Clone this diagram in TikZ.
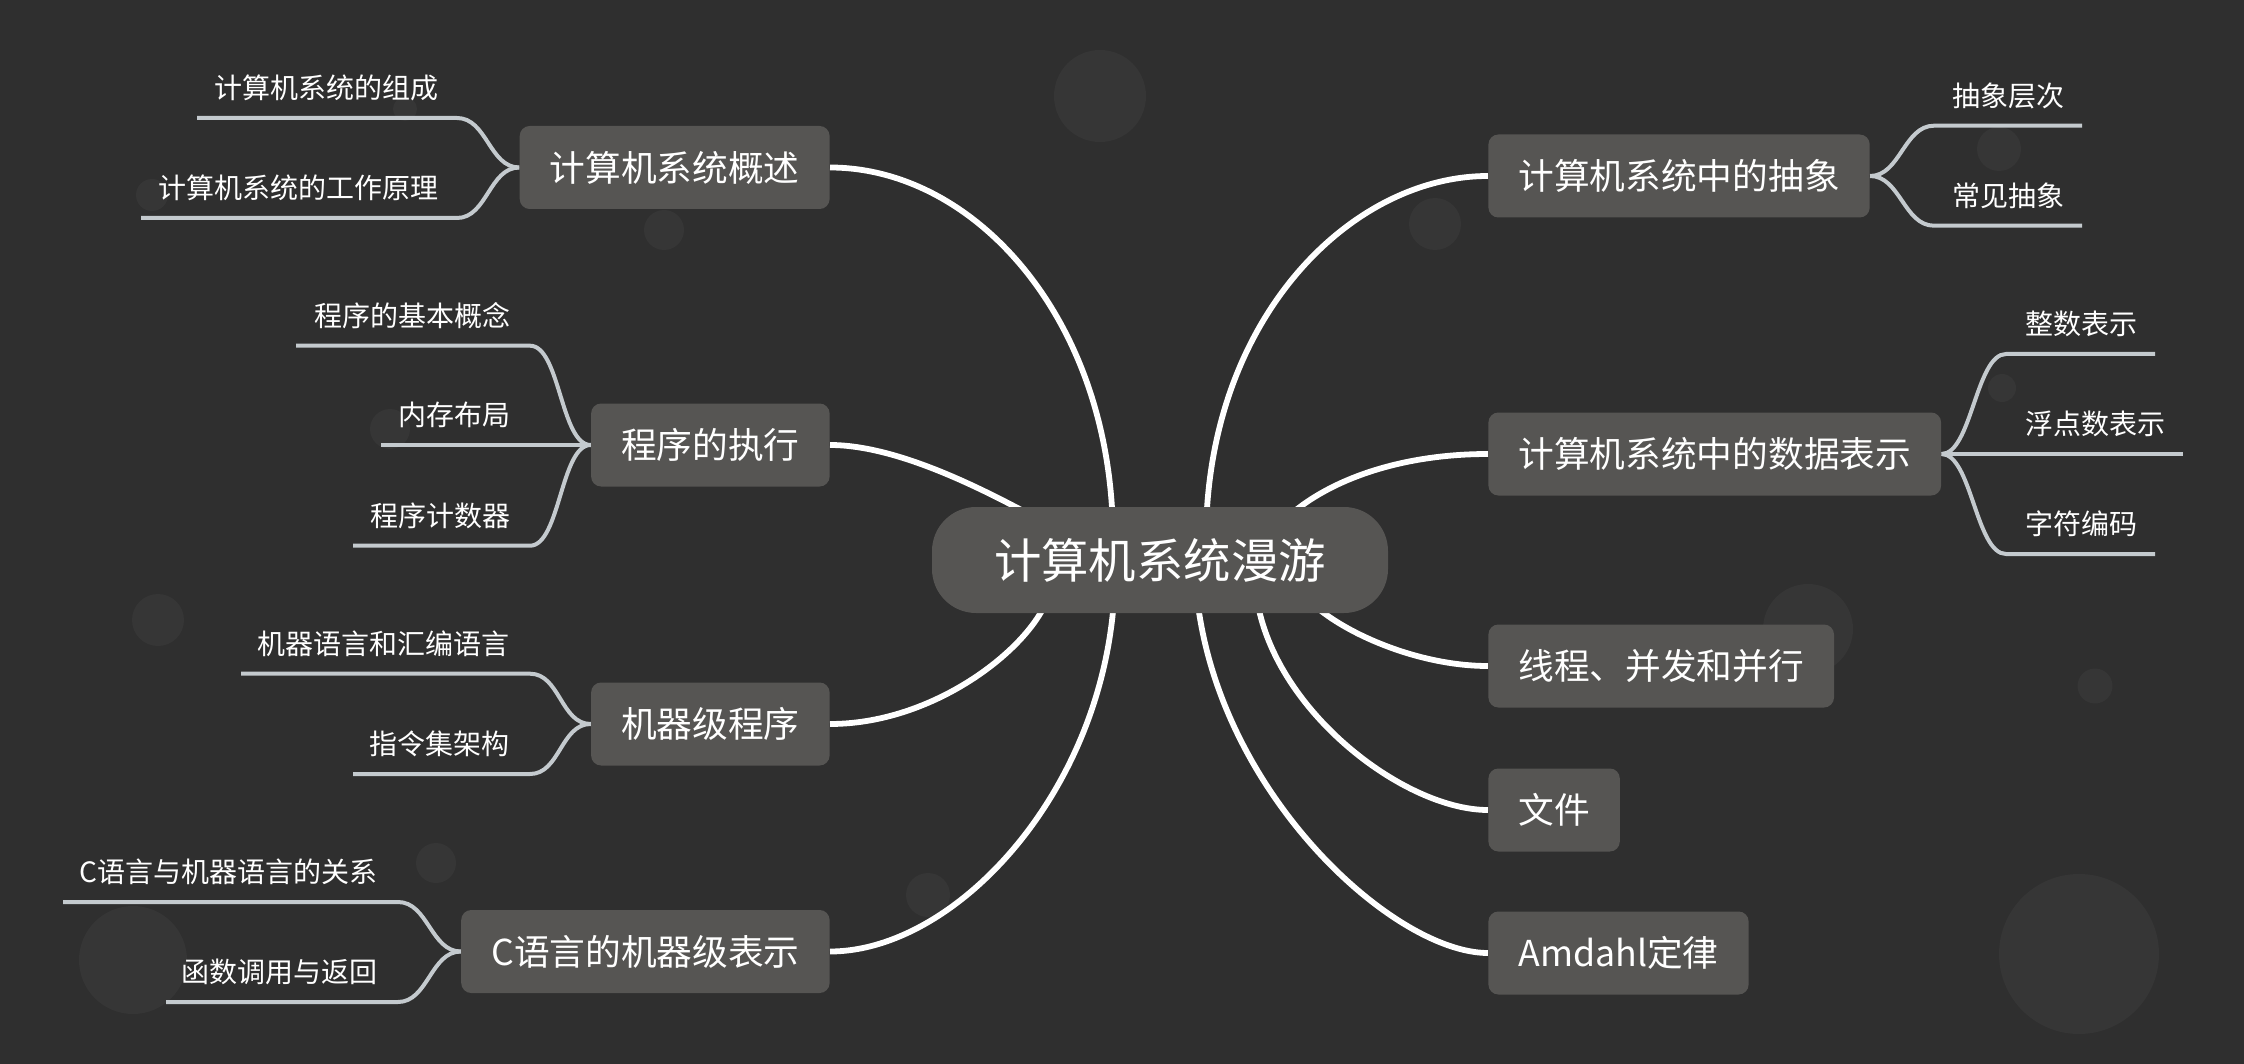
\documentclass[tikz,border=0pt]{standalone}
\usepackage{fontspec}
\setmainfont{Noto Sans CJK SC}
\usetikzlibrary{calc}
\definecolor{bgc}{RGB}{47,47,47}
\definecolor{dotc}{RGB}{54,54,54}
\definecolor{boxc}{RGB}{86,85,83}
\definecolor{leafc}{RGB}{196,202,206}
\pgfdeclarelayer{backdrop}
\pgfdeclarelayer{lines}
\pgfsetlayers{backdrop,lines,main}
\begin{document}
\begin{tikzpicture}[x=0.5pt,y=-0.5pt,
  mainbox/.style={fill=boxc, rounded corners=5pt, text=white, inner xsep=15pt, inner ysep=0pt, minimum height=41.5pt, font=\fontsize{17.85}{20}\selectfont},
  rootbox/.style={fill=boxc, rounded corners=22pt, text=white, minimum width=228pt, minimum height=53pt, inner sep=0pt, font=\fontsize{23.7}{26}\selectfont},
  leaf/.style={text=white, inner sep=0pt, font=\fontsize{14}{16}\selectfont},
  mainline/.style={draw=white, line width=2.9pt},
  leafline/.style={draw=leafc, line width=2pt},
  bgdot/.style={fill=dotc}]
\useasboundingbox (0,0) rectangle (2244,1064);

% ---------- nodes ----------
\node[rootbox] (root) at (1160,560) {计算机系统漫游};

\node[mainbox, anchor=east] (m1) at (830,167.5) {计算机系统概述};
\node[mainbox, anchor=east] (m2) at (830,445) {程序的执行};
\node[mainbox, anchor=east] (m3) at (830,724) {机器级程序};
\node[mainbox, anchor=east] (m4) at (830,951.5) {C语言的机器级表示};
\node[mainbox, anchor=west] (m5) at (1488,176) {计算机系统中的抽象};
\node[mainbox, anchor=west] (m6) at (1488,454) {计算机系统中的数据表示};
\node[mainbox, anchor=west] (m7) at (1488,666) {线程、并发和并行};
\node[mainbox, anchor=west] (m8) at (1488,810) {文件};
\node[mainbox, anchor=west] (m9) at (1488,953) {Amdahl定律};

% leaves (left)
\node[leaf, anchor=east] (l11) at (439,88) {计算机系统的组成};
\node[leaf, anchor=east] (l12) at (439,188) {计算机系统的工作原理};
\node[leaf, anchor=east] (l21) at (511,315.5) {程序的基本概念};
\node[leaf, anchor=east] (l22) at (511,415) {内存布局};
\node[leaf, anchor=east] (l23) at (511,515.5) {程序计数器};
\node[leaf, anchor=east] (l31) at (510,644) {机器语言和汇编语言};
\node[leaf, anchor=east] (l32) at (510,744) {指令集架构};
\node[leaf, anchor=east] (l41) at (378,872) {C语言与机器语言的关系};
\node[leaf, anchor=east] (l42) at (378,972) {函数调用与返回};
% leaves (right)
\node[leaf, anchor=west] (l51) at (1952,95.7) {抽象层次};
\node[leaf, anchor=west] (l52) at (1952,195.7) {常见抽象};
\node[leaf, anchor=west] (l61) at (2025,324) {整数表示};
\node[leaf, anchor=west] (l62) at (2025,424) {浮点数表示};
\node[leaf, anchor=west] (l63) at (2025,524) {字符编码};

% ---------- coordinates ----------
\coordinate (t1) at (m1.west);
\coordinate (t2) at (m2.west);
\coordinate (t3) at (m3.west);
\coordinate (t4) at (m4.west);
\coordinate (t5) at (m5.east);
\coordinate (t6) at (m6.east);
\coordinate (k11) at (457,118);   \coordinate (e11) at (197,118);
\coordinate (k12) at (457,218);   \coordinate (e12) at (141,218);
\coordinate (k21) at (530,345.7); \coordinate (e21) at (296,345.7);
\coordinate (e22) at (381,445);
\coordinate (k23) at (530,545.7); \coordinate (e23) at (353,545.7);
\coordinate (k31) at (530,673.7); \coordinate (e31) at (241,673.7);
\coordinate (k32) at (530,774);   \coordinate (e32) at (353,774);
\coordinate (k41) at (398,902);   \coordinate (e41) at (63,902);
\coordinate (k42) at (398,1002);  \coordinate (e42) at (166,1002);
\coordinate (k51) at (1934,125.7); \coordinate (e51) at (2082,125.7);
\coordinate (k52) at (1934,225.7); \coordinate (e52) at (2082,225.7);
\coordinate (k61) at (2006,354);  \coordinate (e61) at (2155,354);
\coordinate (e62) at (2182.5,454);
\coordinate (k63) at (2006,554);  \coordinate (e63) at (2155,554);
\coordinate (r1) at (1113,540);
\coordinate (r2) at (1040,520);
\coordinate (r3) at (1050,590);
\coordinate (r4) at (1115,570);
\coordinate (r5) at (1206,540);
\coordinate (r6) at (1290,515);
\coordinate (r7) at (1300,590);
\coordinate (r8) at (1255,580);
\coordinate (r9) at (1195,570);

% ---------- background ----------
\begin{pgfonlayer}{backdrop}
\fill[bgc] (0,0) rectangle (2244,1064);
\fill[bgdot] (1100,96) circle[radius=46];
\fill[bgdot] (664,230) circle[radius=20];
\fill[bgdot] (1435,224) circle[radius=26];
\fill[bgdot] (152,195) circle[radius=16];
\fill[bgdot] (390,429) circle[radius=20];
\fill[bgdot] (158,620) circle[radius=26];
\fill[bgdot] (436,863) circle[radius=20];
\fill[bgdot] (133,960) circle[radius=54];
\fill[bgdot] (928,895) circle[radius=22];
\fill[bgdot] (1808,629) circle[radius=45];
\fill[bgdot] (2095,686) circle[radius=17.5];
\fill[bgdot] (2079,954) circle[radius=80];
\fill[bgdot] (1999,149) circle[radius=22];
\fill[bgdot] (2002,388) circle[radius=14];
\fill[bgdot] (405,109) circle[radius=12];
\end{pgfonlayer}

% ---------- connectors ----------
\begin{pgfonlayer}{lines}
\draw[mainline] (r1) .. controls (1113,320) and (975,167.5) .. (m1.east);
\draw[mainline] (r2) .. controls (990,493) and (900,445) .. (m2.east);
\draw[mainline] (r3) .. controls (1040,640) and (940,724) .. (m3.east);
\draw[mainline] (r4) .. controls (1115,780) and (960,951.5) .. (m4.east);
\draw[mainline] (r5) .. controls (1206,320) and (1350,176) .. (m5.west);
\draw[mainline] (r6) .. controls (1330,480) and (1400,454) .. (m6.west);
\draw[mainline] (r7) .. controls (1325,625) and (1410,666) .. (m7.west);
\draw[mainline] (r8) .. controls (1260,700) and (1400,810) .. (m8.west);
\draw[mainline] (r9) .. controls (1203,780) and (1390,953) .. (m9.west);

\draw[leafline] (t1) .. controls +(-30,0) and +(30,0) .. (k11) -- (e11);
\draw[leafline] (t1) .. controls +(-30,0) and +(30,0) .. (k12) -- (e12);
\draw[leafline] (t2) .. controls +(-30,0) and +(30,0) .. (k21) -- (e21);
\draw[leafline] (t2) -- (e22);
\draw[leafline] (t2) .. controls +(-30,0) and +(30,0) .. (k23) -- (e23);
\draw[leafline] (t3) .. controls +(-30,0) and +(30,0) .. (k31) -- (e31);
\draw[leafline] (t3) .. controls +(-30,0) and +(30,0) .. (k32) -- (e32);
\draw[leafline] (t4) .. controls +(-30,0) and +(30,0) .. (k41) -- (e41);
\draw[leafline] (t4) .. controls +(-30,0) and +(30,0) .. (k42) -- (e42);
\draw[leafline] (t5) .. controls +(30,0) and +(-30,0) .. (k51) -- (e51);
\draw[leafline] (t5) .. controls +(30,0) and +(-30,0) .. (k52) -- (e52);
\draw[leafline] (t6) .. controls +(30,0) and +(-30,0) .. (k61) -- (e61);
\draw[leafline] (t6) -- (e62);
\draw[leafline] (t6) .. controls +(30,0) and +(-30,0) .. (k63) -- (e63);
\end{pgfonlayer}
\end{tikzpicture}
\end{document}
